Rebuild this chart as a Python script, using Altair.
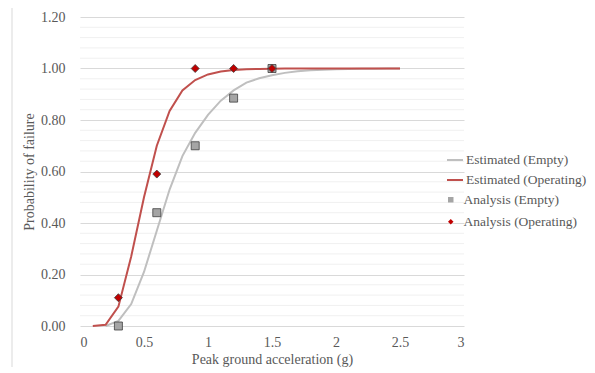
import altair as alt
import pandas as pd

# Estimated fragility curves
pga_empty = [0.2, 0.3, 0.4, 0.5, 0.6, 0.7, 0.8, 0.9, 1.0, 1.1, 1.2, 1.3, 1.4, 1.5,
             1.6, 1.7, 1.8, 1.9, 2.0, 2.1, 2.2, 2.3, 2.4, 2.5]
est_empty = [0.0, 0.02, 0.085, 0.21, 0.37, 0.53, 0.66, 0.75, 0.82, 0.875, 0.915, 0.945,
             0.962, 0.974, 0.983, 0.989, 0.993, 0.995, 0.997, 0.998, 0.999, 0.999, 1.0, 1.0]
pga_oper = [0.1, 0.2, 0.3, 0.4, 0.5, 0.6, 0.7, 0.8, 0.9, 1.0, 1.1, 1.2, 1.3, 1.4, 1.5,
            1.6, 1.7, 1.8, 1.9, 2.0, 2.1, 2.2, 2.3, 2.4, 2.5]
est_oper = [0.0, 0.005, 0.075, 0.27, 0.50, 0.70, 0.835, 0.915, 0.955, 0.977, 0.988, 0.994,
            0.997, 0.998, 0.999, 1.0, 1.0, 1.0, 1.0, 1.0, 1.0, 1.0, 1.0, 1.0, 1.0]

# Analysis points
pga_analysis = [0.3, 0.6, 0.9, 1.2, 1.5]
ana_empty = [0.0, 0.44, 0.70, 0.885, 1.0]
ana_oper = [0.11, 0.59, 1.0, 1.0, 1.0]

line_names = ["Estimated (Empty)", "Estimated (Operating)"]
point_names = ["Analysis (Empty)", "Analysis (Operating)"]
line_colors = ["#bfbfbf", "#c0504d"]
point_fills = ["#a5a5a5", "#c00000"]

y_major = [0, 0.2, 0.4, 0.6, 0.8, 1.0, 1.2]
y_minor = [round(0.04 * i, 2) for i in range(31) if i % 5 != 0]
x_ticks = [0, 0.5, 1, 1.5, 2, 2.5, 3]

lines_df = pd.concat([
    pd.DataFrame({"pga": pga_empty, "p": est_empty, "series": line_names[0], "order": 0}),
    pd.DataFrame({"pga": pga_oper, "p": est_oper, "series": line_names[1], "order": 1}),
])
points_df = pd.concat([
    pd.DataFrame({"pga": pga_analysis, "p": ana_empty, "series": point_names[0]}),
    pd.DataFrame({"pga": pga_analysis, "p": ana_oper, "series": point_names[1]}),
])
minor_df = pd.DataFrame({"v": y_minor})

FONT = "Liberation Serif"
TXT = "#595959"
FS = 14

xscale = alt.Scale(domain=[0, 3], nice=False)
yscale = alt.Scale(domain=[0, 1.2], nice=False)

x_axis = alt.Axis(values=x_ticks, format="~g", title="Peak ground acceleration (g)",
                  grid=False, domain=False, ticks=False, tickSize=0,
                  labelPadding=9, titlePadding=3)
y_axis = alt.Axis(values=y_major, format=".2f", title="Probability of failure",
                  grid=True, gridColor="#d9d9d9", domain=False, ticks=False,
                  tickSize=0, labelPadding=15, titlePadding=4)

minor = alt.Chart(minor_df).mark_rule(color="#f0f0f0", strokeWidth=1).encode(
    y=alt.Y("v:Q", scale=yscale, axis=y_axis)
)

lines = alt.Chart(lines_df).mark_line(strokeWidth=2).encode(
    x=alt.X("pga:Q", scale=xscale, axis=x_axis),
    y=alt.Y("p:Q", scale=yscale, axis=y_axis),
    color=alt.Color("series:N", scale=alt.Scale(domain=line_names, range=line_colors),
                    legend=alt.Legend(title=None, orient="none", legendX=366, legendY=134,
                                      symbolType="stroke", symbolSize=256,
                                      symbolStrokeWidth=2, labelOffset=2, rowPadding=4)),
    detail="order:O",
)

pt_legend = alt.Legend(title=None, orient="none", legendX=364, legendY=176,
                       symbolSize=30, labelOffset=6, rowPadding=7,
                       symbolStrokeColor="#3f3f3f", symbolStrokeWidth=0.8)

points = alt.Chart(points_df).mark_point(filled=True, size=64, stroke="#3f3f3f",
                                         strokeWidth=0.8, opacity=1).encode(
    x=alt.X("pga:Q", scale=xscale, axis=x_axis),
    y=alt.Y("p:Q", scale=yscale, axis=y_axis),
    fill=alt.Fill("series:N", scale=alt.Scale(domain=point_names, range=point_fills),
                  legend=pt_legend),
    shape=alt.Shape("series:N", scale=alt.Scale(domain=point_names, range=["square", "diamond"]),
                    legend=pt_legend),
)

frame = alt.Chart(pd.DataFrame({"a": [0]})).mark_rule(color="#d9d9d9", strokeWidth=1).encode(
    x=alt.value(-68), y=alt.value(-10), y2=alt.value(360)
)
frame_top = alt.Chart(pd.DataFrame({"a": [0]})).mark_rule(color="#d9d9d9", strokeWidth=1).encode(
    x=alt.value(-68), x2=alt.value(520), y=alt.value(-10)
)

chart = alt.layer(minor, lines, points, frame, frame_top).properties(
    width=384, height=309,
    autosize=alt.AutoSizeParams(type="none"),
    padding={"left": 72, "top": 9, "right": 123, "bottom": 41},
).configure(font=FONT).configure_view(stroke=None).configure_axis(
    labelFont=FONT, titleFont=FONT, labelColor=TXT, titleColor=TXT,
    labelFontSize=FS, titleFontSize=FS, titleFontWeight="normal",
).configure_legend(
    labelFont=FONT, labelColor=TXT, labelFontSize=13.5, labelLimit=300,
)

chart.save("out.html", embed_options={"renderer": "svg", "actions": False})
